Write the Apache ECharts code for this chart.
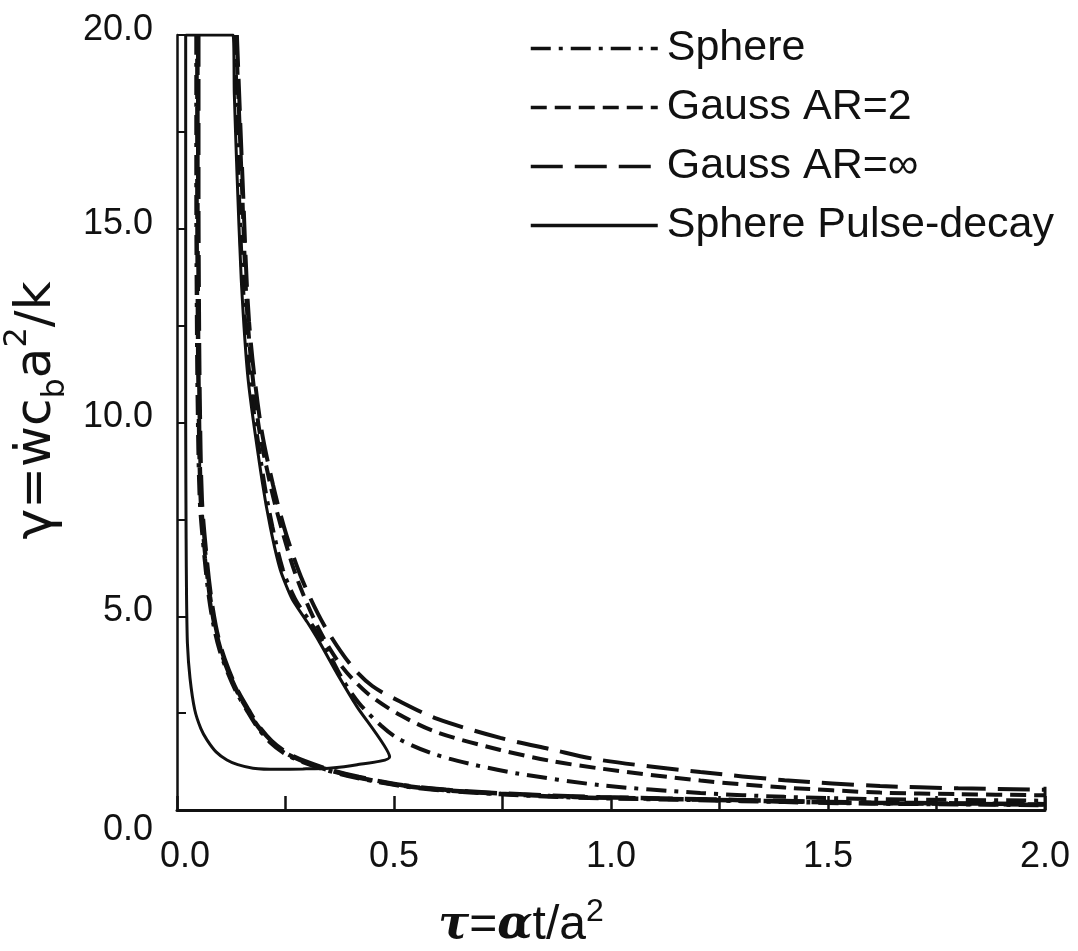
<!DOCTYPE html>
<html><head><meta charset="utf-8">
<script src="https://cdn.jsdelivr.net/npm/echarts@6/dist/echarts.min.js"></script>
<style>html,body{margin:0;padding:0;background:#fff}#c{width:1078px;height:951px}</style>
</head><body><div id="c"></div>
<script>
// ---- data ----
const seriesNames = ['Sphere', 'Gauss AR=2', 'Gauss AR=\u221E', 'Sphere Pulse-decay'];
const xTickLabels = ['0.0', '0.5', '1.0', '1.5', '2.0'];
const yTickLabels = ['0.0', '5.0', '10.0', '15.0', '20.0'];

// inner (left) bundle, three nearly coincident curves
const sphereInner = [[0.045,20],[0.045,16],[0.046,13.2],[0.048,10.6],[0.053,8.0],[0.064,6.5],[0.074,5.5],[0.085,4.75],[0.098,4.15],[0.115,3.61],[0.137,3.05],[0.161,2.58],[0.185,2.15],[0.214,1.76],[0.25,1.45],[0.29,1.24],[0.345,1.03],[0.415,0.83],[0.52,0.62],[0.62,0.5],[0.745,0.41],[0.86,0.35],[0.975,0.31],[1.2,0.26],[1.4,0.21],[1.6,0.17],[1.8,0.15],[2.0,0.13]];
const gauss2Inner = [[0.047,20],[0.047,16],[0.048,13.2],[0.05,10.6],[0.055,8.0],[0.066,6.5],[0.076,5.5],[0.087,4.75],[0.1,4.15],[0.117,3.61],[0.139,3.05],[0.163,2.58],[0.187,2.15],[0.216,1.77],[0.252,1.46],[0.292,1.25],[0.347,1.04],[0.417,0.84],[0.52,0.63],[0.62,0.51],[0.745,0.42],[0.86,0.36],[0.975,0.32],[1.2,0.27],[1.4,0.22],[1.6,0.18],[1.8,0.16],[2.0,0.14]];
const gaussInfInner = [[0.049,20],[0.049,16],[0.05,13.2],[0.052,10.6],[0.057,8.0],[0.068,6.5],[0.078,5.5],[0.089,4.75],[0.102,4.15],[0.119,3.61],[0.141,3.05],[0.165,2.58],[0.189,2.15],[0.218,1.78],[0.254,1.47],[0.294,1.26],[0.349,1.05],[0.419,0.85],[0.52,0.64],[0.62,0.52],[0.745,0.43],[0.86,0.37],[0.975,0.33],[1.2,0.28],[1.4,0.23],[1.6,0.19],[1.8,0.17],[2.0,0.15]];

// outer (right) group
const sphereOuter = [[0.134,20],[0.141,16.5],[0.151,13.7],[0.168,11.1],[0.2,8.5],[0.22,7.3],[0.244,6.2],[0.272,5.45],[0.307,4.85],[0.338,4.3],[0.38,3.4],[0.42,2.75],[0.47,2.18],[0.51,1.84],[0.59,1.45],[0.68,1.18],[0.78,0.95],[0.976,0.64],[1.206,0.44],[1.4,0.34],[1.62,0.28],[1.8,0.26],[2.0,0.24]];
const gauss2Outer = [[0.136,20],[0.15,16],[0.163,12.6],[0.187,10.0],[0.215,8.4],[0.245,7.1],[0.279,5.9],[0.33,4.6],[0.38,3.7],[0.44,3.0],[0.514,2.45],[0.6,2.0],[0.745,1.55],[0.86,1.27],[0.976,1.07],[1.206,0.76],[1.4,0.58],[1.62,0.45],[1.8,0.41],[2.0,0.38]];
const gaussInfOuter = [[0.138,20],[0.152,16],[0.166,12.6],[0.192,10.0],[0.221,8.4],[0.252,7.1],[0.29,5.9],[0.34,4.75],[0.40,3.75],[0.45,3.2],[0.514,2.8],[0.6,2.35],[0.745,1.86],[0.86,1.57],[0.976,1.29],[1.206,0.98],[1.4,0.77],[1.62,0.62],[1.8,0.56],[2.0,0.52]];

// sphere pulse-decay closed loop
const pulseDecay = [[0.02,20],[0.02,15],[0.02,10],[0.021,7],[0.022,5.5],[0.024,4.3],[0.03,3.4],[0.041,2.58],[0.055,2.1],[0.069,1.81],[0.09,1.5],[0.115,1.29],[0.14,1.17],[0.175,1.08],[0.23,1.05],[0.29,1.06],[0.35,1.08],[0.415,1.17],[0.49,1.37],[0.415,2.66],[0.37,3.5],[0.33,4.3],[0.3,4.85],[0.265,5.45],[0.238,6.2],[0.215,7.3],[0.196,8.5],[0.164,11.1],[0.148,13.7],[0.138,16.5],[0.132,18.5],[0.129,20],[0.02,20]];
const endCap = [[2.0,0],[2.0,0.6]];

// ---- chart ----
const INK = '#111';
const styles = {
  'Sphere': [20, 8, 4, 8],
  'Gauss AR=2': [16, 8],
  'Gauss AR=\u221E': [32, 12],
  'Sphere Pulse-decay': 'solid'
};
function mk(name, data, width) {
  return {
    name: name, type: 'line', data: data, symbol: 'none', smooth: 0.3, clip: true,
    lineStyle: { color: INK, width: width, type: styles[name] },
    itemStyle: { color: INK },
    emphasis: { disabled: true }, animation: false
  };
}
const series = [
  mk(seriesNames[0], sphereInner, 4.5),
  mk(seriesNames[1], gauss2Inner, 4.5),
  mk(seriesNames[2], gaussInfInner, 4.5),
  mk(seriesNames[0], sphereOuter, 4),
  mk(seriesNames[1], gauss2Outer, 4),
  mk(seriesNames[2], gaussInfOuter, 4),
  Object.assign(mk(seriesNames[3], pulseDecay, 3), { smooth: 0.2 })
];
series.push({
  type: 'line', data: endCap, symbol: 'none', silent: true, animation: false,
  lineStyle: { color: INK, width: 3 }
});

const chart = echarts.init(document.getElementById('c'), null, { renderer: 'canvas' });
chart.setOption({
  backgroundColor: '#fff',
  animation: false,
  grid: { left: 177, right: 33, top: 35, bottom: 141, containLabel: false, outerBoundsMode: 'none' },
  legend: {
    data: seriesNames, orient: 'vertical', left: 524, top: 22,
    itemWidth: 127, itemHeight: 2, itemGap: 16, selectedMode: false,
    itemStyle: { opacity: 0 },
    lineStyle: { width: 3.5 },
    textStyle: { fontFamily: 'Liberation Sans', fontSize: 43, color: INK, padding: [0, 0, 0, 4] }
  },
  xAxis: {
    type: 'value', min: 0, max: 2, interval: 0.25,
    name: '{t|\u03C4}{n|=}{t|\u03B1}{n|t/a}{sup|2}',
    nameLocation: 'middle', nameGap: 86,
    nameTextStyle: {
      padding: [0, 180, 0, 0],
      rich: {
        t: { fontFamily: 'DejaVu Serif', fontSize: 46, fontWeight: 'bold', fontStyle: 'italic', color: INK, lineHeight: 60 },
        n: { fontFamily: 'Liberation Sans', fontSize: 48, color: INK, lineHeight: 60 },
        sup: { fontFamily: 'Liberation Sans', fontSize: 32, color: INK, lineHeight: 30, verticalAlign: 'top' }
      }
    },
    axisLine: { show: true, lineStyle: { color: INK, width: 3 } },
    axisTick: { show: true, inside: true, length: 14, lineStyle: { color: INK, width: 2.5 } },
    splitLine: { show: false },
    axisLabel: {
      margin: 29, fontFamily: 'Liberation Sans', fontSize: 36, color: INK,
      formatter: function (v) {
        const k = Math.round(v * 2);
        if (Math.abs(v * 2 - k) > 1e-6) return '';
        return k === 0 ? '{z|' + xTickLabels[0] + '}' : (xTickLabels[k] || '');
      },
      rich: { z: { fontFamily: 'Liberation Sans', fontSize: 36, color: INK, padding: [0, 0, 0, 16] } }
    }
  },
  yAxis: {
    type: 'value', min: 0, max: 20, interval: 2.5,
    name: '{g|\u03B3}{n|=\u1E87c}{sub|b}{n|a}{sup|2}{n|/k}',
    nameLocation: 'middle', nameGap: 98, nameRotate: 90,
    nameTextStyle: {
      padding: [0, 0, 0, 24],
      rich: {
        g: { fontFamily: 'DejaVu Sans', fontSize: 52, color: INK, lineHeight: 70 },
        n: { fontFamily: 'DejaVu Sans', fontSize: 50, color: INK, lineHeight: 70 },
        sub: { fontFamily: 'DejaVu Sans', fontSize: 32, color: INK, lineHeight: 34, verticalAlign: 'bottom' },
        sup: { fontFamily: 'DejaVu Sans', fontSize: 32, color: INK, lineHeight: 34, verticalAlign: 'top' }
      }
    },
    axisLine: { show: true, lineStyle: { color: INK, width: 2.5 } },
    axisTick: { show: true, inside: true, length: 9, lineStyle: { color: INK, width: 2 } },
    splitLine: { show: false },
    axisLabel: {
      margin: 24, fontFamily: 'Liberation Sans', fontSize: 36, color: INK,
      padding: [0, 0, 10, 0],
      formatter: function (v) {
        const k = Math.round(v / 5);
        if (Math.abs(v / 5 - k) > 1e-6) return '';
        return k === 0 ? '{z|' + yTickLabels[0] + '}' : (yTickLabels[k] || '');
      },
      rich: { z: { fontFamily: 'Liberation Sans', fontSize: 36, color: INK, padding: [50, 0, 0, 0] } }
    }
  },
  series: series
});
</script>
</body></html>
